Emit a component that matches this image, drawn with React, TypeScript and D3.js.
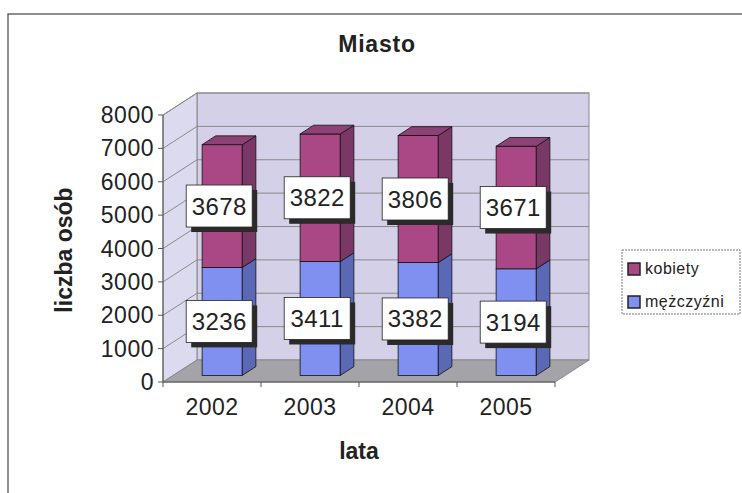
import React from "react";
import * as d3 from "d3";

const categories = ["2002", "2003", "2004", "2005"];
const men = [3236, 3411, 3382, 3194];
const women = [3678, 3822, 3806, 3671];
const yTicks = [0, 1000, 2000, 3000, 4000, 5000, 6000, 7000, 8000];
const seriesNames = ["kobiety", "mężczyźni"];
const title = "Miasto";
const xTitle = "lata";
const yTitle = "liczba osób";

const W = 742;
const H = 493;
const FONT = "Arial, 'Liberation Sans', sans-serif";

export default function App() {
  const x0 = 163, x1 = 555;
  const DX = 34, DY = 22; // full depth offset
  const y = d3.scaleLinear().domain([0, 8000]).range([382, 115]);
  const x = d3.scaleBand<string>().domain(categories).range([x0, x1]).padding(0);
  const bw = x.bandwidth() * 0.41;
  const zF = 0.3, zB = 0.7;
  const fdx = DX * zF, fdy = DY * zF;
  const bdx = DX * (zB - zF), bdy = DY * (zB - zF);

  const colors = {
    blue: { front: "#7f90f0", side: "#5a68b6", top: "#6e7cd6" },
    pink: { front: "#aa4886", side: "#7a3866", top: "#8c4274" },
  };

  const stack = d3.stack<any>().keys(["men", "women"])(
    categories.map((c, i) => ({ cat: c, men: men[i], women: women[i] }))
  );

  const pts = (arr: number[][]) => arr.map((p) => p.join(",")).join(" ");

  const backTop = y(8000) - DY, backBot = y(0) - DY;

  const bars: any[] = [];
  const labels: any[] = [];
  categories.forEach((c, i) => {
    const cx = (x(c) as number) + x.bandwidth() / 2 + fdx;
    const bx0 = cx - bw / 2, bx1 = cx + bw / 2;
    stack.forEach((layer, li) => {
      const [v0, v1] = layer[i];
      const col = li === 0 ? colors.blue : colors.pink;
      const yt = y(v1) - fdy, yb = y(v0) - fdy;
      bars.push(
        <g key={c + li}>
          <rect x={bx0} y={yt} width={bw} height={yb - yt} fill={col.front} stroke="#111" strokeWidth={0.8} />
          <polygon points={pts([[bx1, yt], [bx1 + bdx, yt - bdy], [bx1 + bdx, yb - bdy], [bx1, yb]])} fill={col.side} stroke="#111" strokeWidth={0.8} />
          {li === stack.length - 1 && (
            <polygon points={pts([[bx0, yt], [bx1, yt], [bx1 + bdx, yt - bdy], [bx0 + bdx, yt - bdy]])} fill={col.top} stroke="#111" strokeWidth={0.8} />
          )}
        </g>
      );
      const val = v1 - v0;
      const lx = cx - 3, ly = (yt + yb) / 2;
      const lw = 66, lh = 42;
      labels.push(
        <g key={"l" + c + li}>
          <rect x={lx - lw / 2 + 5} y={ly - lh / 2 + 5} width={lw} height={lh} fill="#2a2a2a" />
          <rect x={lx - lw / 2} y={ly - lh / 2} width={lw} height={lh} fill="#ffffff" stroke="#222" strokeWidth={0.8} />
          <text x={lx} y={ly + 8.5} textAnchor="middle" fontSize={24} fontFamily={FONT} fill="#222" letterSpacing={0.4}>{val}</text>
        </g>
      );
    });
  });

  return (
    <svg width={W} height={H} style={{ position: "fixed", left: 0, top: 0, background: "#fff" }}>
      <rect x={8} y={14} width={760} height={500} fill="#fff" stroke="#444" strokeWidth={1.2} />
      <text x={377} y={52} textAnchor="middle" fontSize={23} fontWeight="bold" fontFamily={FONT} fill="#222" letterSpacing={0.8}>{title}</text>

      {/* walls */}
      <rect x={x0 + DX} y={backTop} width={x1 - x0} height={backBot - backTop} fill="#d3d0e8" stroke="#888" strokeWidth={1} />
      <polygon points={pts([[x0, y(0)], [x0 + DX, backBot], [x0 + DX, backTop], [x0, y(8000)]])} fill="#dcdaee" stroke="#888" strokeWidth={1} />
      <polygon points={pts([[x0, y(0)], [x0 + DX, backBot], [x1 + DX, backBot], [x1, y(0)]])} fill="#a4a4a8" stroke="#888" strokeWidth={1} />

      {/* gridlines */}
      {yTicks.slice(1).map((t) => (
        <g key={"g" + t}>
          <line x1={x0 + DX} x2={x1 + DX} y1={y(t) - DY} y2={y(t) - DY} stroke="#8a8a8a" strokeWidth={1} />
          <line x1={x0} x2={x0 + DX} y1={y(t)} y2={y(t) - DY} stroke="#8a8a8a" strokeWidth={1} />
        </g>
      ))}

      {/* axes */}
      <line x1={x0} x2={x0} y1={y(8000)} y2={y(0)} stroke="#555" strokeWidth={1} />
      <line x1={x0} x2={x1} y1={y(0)} y2={y(0)} stroke="#555" strokeWidth={1} />
      {yTicks.map((t) => (
        <g key={"t" + t}>
          <line x1={x0 - 5} x2={x0} y1={y(t)} y2={y(t)} stroke="#555" />
          <text x={x0 - 9} y={y(t) + 8} textAnchor="end" fontSize={23} fontFamily={FONT} fill="#222" letterSpacing={0.5}>{t}</text>
        </g>
      ))}
      {[...categories.map((c) => x(c) as number), x1].map((v, i) => (
        <line key={"xt" + i} x1={v} x2={v} y1={y(0)} y2={y(0) + 5} stroke="#555" />
      ))}
      {categories.map((c) => (
        <text key={"xl" + c} x={(x(c) as number) + x.bandwidth() / 2} y={415} textAnchor="middle" fontSize={23} fontFamily={FONT} fill="#222" letterSpacing={0.5}>{c}</text>
      ))}

      {bars}
      {labels}

      <text x={359} y={459} textAnchor="middle" fontSize={23} fontWeight="bold" fontFamily={FONT} fill="#222">{xTitle}</text>
      <text transform="translate(72,250) rotate(-90)" textAnchor="middle" fontSize={23} fontWeight="bold" fontFamily={FONT} fill="#222">{yTitle}</text>

      {/* legend */}
      <rect x={622} y={250} width={118} height={64} fill="#fff" stroke="#777" strokeWidth={1} strokeDasharray="2,1" />
      {seriesNames.map((s, i) => (
        <g key={s}>
          <rect x={628} y={263 + i * 33} width={12} height={12} fill={i === 0 ? colors.pink.front : colors.blue.front} stroke="#222" strokeWidth={1.5} />
          <text x={645} y={274 + i * 33} fontSize={16} fontFamily={FONT} fill="#222" letterSpacing={0.5}>{s}</text>
        </g>
      ))}
    </svg>
  );
}
